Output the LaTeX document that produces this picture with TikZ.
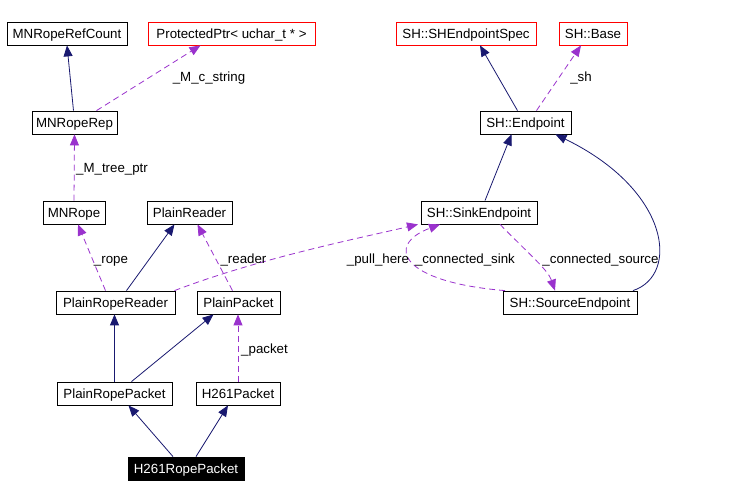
\documentclass[tikz,border=0pt]{standalone}
\usepackage{fontspec}
\setmainfont{Liberation Sans}
\usetikzlibrary{arrows.meta}
\definecolor{navyc}{HTML}{191970}
\definecolor{purpc}{HTML}{9A32CD}
\begin{document}
\begin{tikzpicture}[x=1pt,y=-1pt,
  cls/.style={draw=black, line width=0.8pt, fill=white, minimum height=23pt, inner sep=0pt, text height=9.5pt, text depth=0pt, font=\fontsize{13.3}{16}\selectfont},
  ext/.style={cls, draw=red},
  cur/.style={cls, fill=black, text=white},
  inh/.style={draw=navyc, line width=0.8pt, -{Triangle[length=11pt,width=9pt]}},
  use/.style={draw=purpc, line width=0.8pt, dash pattern=on 6pt off 4pt, -{Triangle[length=11pt,width=9pt]}},
  lbl/.style={inner sep=0pt, text height=9.5pt, text depth=0pt, font=\fontsize{13.3}{16}\selectfont}]
\useasboundingbox[fill=white] (0,0) rectangle (748,502);
% nodes
\node[cls, minimum width=120pt] (refcount) at (67,33.5) {MNRopeRefCount};
\node[ext, minimum width=167pt] (pptr) at (231.5,33.5) {ProtectedPtr< uchar\_t * >};
\node[ext, minimum width=140pt] (shspec) at (466,33.5) {SH::SHEndpointSpec};
\node[ext, minimum width=68pt] (base) at (593,33.5) {SH::Base};
\node[cls, minimum width=85pt] (rep) at (74.5,122.5) {MNRopeRep};
\node[cls, minimum width=91pt] (endpoint) at (525.5,122.5) {SH::Endpoint};
\node[cls, minimum width=62pt] (rope) at (74,212.5) {MNRope};
\node[cls, minimum width=85pt] (preader) at (189.5,212.5) {PlainReader};
\node[cls, minimum width=116pt] (sink) at (479,212.5) {SH::SinkEndpoint};
\node[cls, minimum width=119pt] (prr) at (115.5,302.5) {PlainRopeReader};
\node[cls, minimum width=83pt] (ppacket) at (238.5,302.5) {PlainPacket};
\node[cls, minimum width=134pt] (src) at (570,302.5) {SH::SourceEndpoint};
\node[cls, minimum width=115pt] (prp) at (114.5,393.5) {PlainRopePacket};
\node[cls, minimum width=84pt] (h261) at (238,393.5) {H261Packet};
\node[cur, minimum width=116pt] (h261rp) at (186,468.5) {H261RopePacket};
% edges
\draw[inh] ([xshift=-1pt]rep.north) -- (refcount.south);
\draw[use] ([xshift=22pt]rep.north) -- ([xshift=-31pt]pptr.south);
\draw[use] (rope.north) -- (rep.south);
\draw[use] ([xshift=-10pt]prr.north) -- ([xshift=4pt]rope.south);
\draw[inh] ([xshift=11pt]prr.north) -- ([xshift=-15pt]preader.south);
\draw[use] ([xshift=-6pt]ppacket.north) -- ([xshift=8pt]preader.south);
\draw[use] ([xshift=59pt]prr.north) .. controls (260,258) and (360,238) .. ([xshift=-61pt]sink.south);
\draw[use] ([xshift=-65pt]src.north) .. controls (400,282) and (385,245) .. ([xshift=-39pt]sink.south);
\draw[use] ([xshift=21pt]sink.south) .. controls (530,255) and (548,270) .. ([xshift=-15pt]src.north);
\draw[inh] ([xshift=6pt]sink.north) -- ([xshift=-14pt]endpoint.south);
\draw[inh] ([xshift=63pt]src.north) .. controls (680,275) and (670,190) .. ([xshift=30pt]endpoint.south);
\draw[inh] ([xshift=-8pt]endpoint.north) -- ([xshift=14pt]shspec.south);
\draw[use] ([xshift=11pt]endpoint.north) -- ([xshift=-12pt]base.south);
\draw[inh] (prp.north) -- (prr.south -| prp.north);
\draw[inh] ([xshift=17pt]prp.north) -- ([xshift=-25pt]ppacket.south);
\draw[use] (h261.north) -- (h261.north |- ppacket.south);
\draw[inh] ([xshift=-13pt]h261rp.north) -- ([xshift=14pt]prp.south);
\draw[inh] ([xshift=10pt]h261rp.north) -- ([xshift=-10pt]h261.south);
% labels
\node[lbl] (l1) at (209,77) {\_M\_c\_string};
\node[lbl] (l2) at (581,77) {\_sh};
\node[lbl] (l3) at (112,168) {\_M\_tree\_ptr};
\node[lbl] (l4) at (111,259) {\_rope};
\node[lbl] (l5) at (243.5,259) {\_reader};
\node[lbl] (l6) at (378,259) {\_pull\_here};
\node[lbl] (l7) at (465,259) {\_connected\_sink};
\node[lbl] (l8) at (600.5,259) {\_connected\_source};
\node[lbl] (l9) at (264.5,349) {\_packet};
\end{tikzpicture}
\end{document}
